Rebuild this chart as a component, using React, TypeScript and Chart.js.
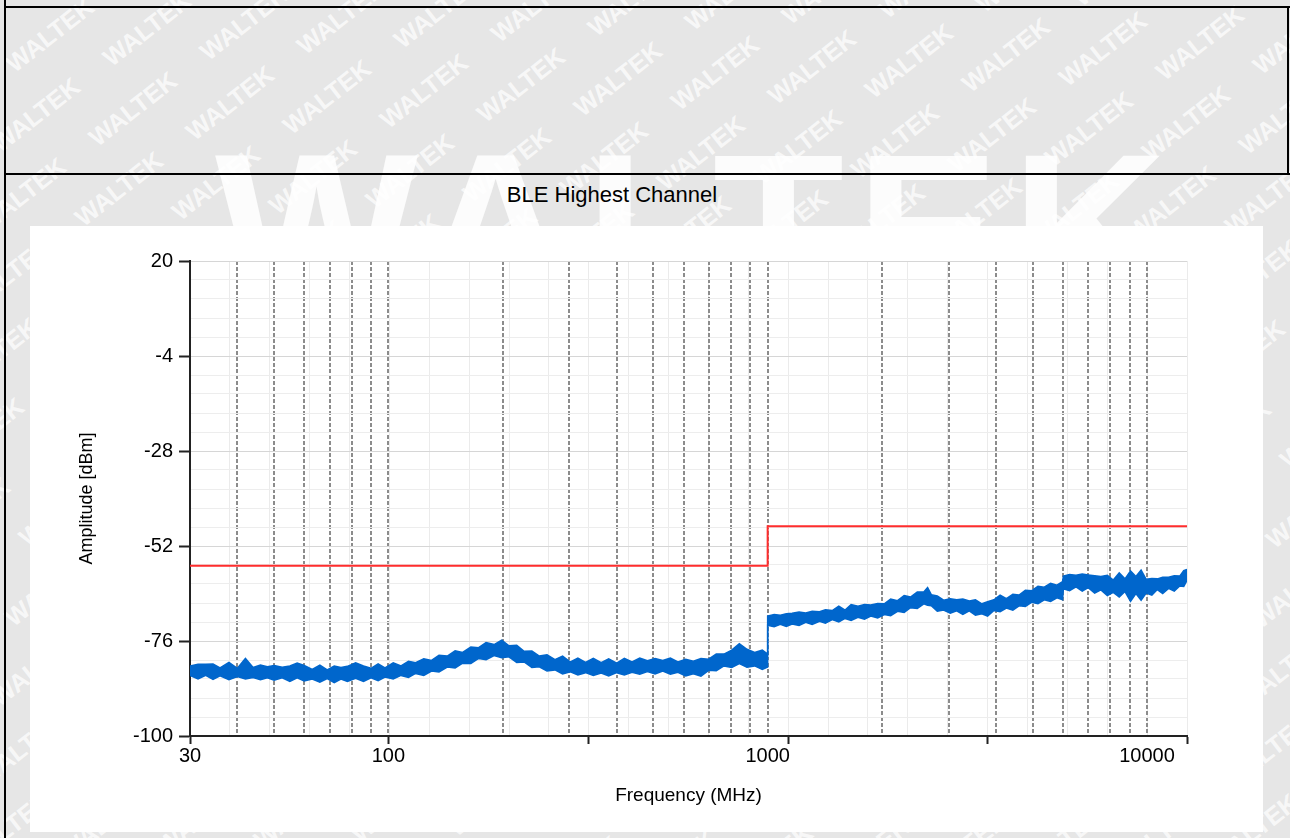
import React, { useEffect, useRef } from 'react';
import { Chart, registerables } from 'chart.js';

Chart.register(...registerables);

const CHART_TITLE = 'BLE Highest Channel';
const X_TITLE = 'Frequency (MHz)';
const Y_TITLE = 'Amplitude [dBm]';

const X_MIN = 30;
const X_MAX = 12750;
const Y_MIN = -100;
const Y_MAX = 20;
const Y_MAJOR_STEP = 24;
const Y_MINOR_DIV = 5;
const X_LABELS = [30, 100, 1000, 10000];
const X_DASHED = [
  40, 50, 60, 70, 80, 90, 100,
  200, 300, 400, 500, 600, 700, 800, 900, 1000,
  2000, 3000, 4000, 5000, 6000, 7000, 8000, 9000, 10000,
];

// Limit line (red)
const LIMIT_FREQ = [30, 1000, 1000, 12750];
const LIMIT_DBM = [-57, -57, -47, -47];

// Measured trace 30 MHz - 1 GHz (upper / lower edge of the noisy trace)
const SEG1_FREQ = [
  30, 31.5, 33, 34.5, 36, 38, 40, 42, 44, 46, 48, 50, 52.5, 55, 57.5,
  60, 63, 66, 69, 72, 75, 78, 82, 86, 90, 94, 98, 103, 108, 113,
  118, 124, 130, 136, 143, 150, 157, 165, 173, 181, 190, 199, 208, 218, 228,
  239, 250, 262, 275, 288, 302, 316, 331, 347, 364, 381, 400, 419, 439, 460,
  482, 505, 529, 554, 580, 608, 637, 667, 699, 732, 767, 804, 842, 882, 924,
  968, 1000,
];
const SEG1_UPPER = [
  -82.3, -81.9, -81.9, -81.8, -82.8, -81.4, -82.9, -80.4, -82.7, -82.1, -82.5, -82.2, -82.6, -82.3, -81.6,
  -82.2, -83.2, -82.1, -83.3, -82.3, -82.7, -82.4, -81.5, -82.3, -82.9, -81.8, -82.8, -81.5, -82.3, -81.1,
  -81.5, -80.5, -80.9, -79.6, -79.8, -78.5, -78.9, -77.5, -77.7, -76.4, -76.9, -75.8, -77.2, -77.1, -78.6,
  -78.5, -79.8, -79.5, -80.7, -79.8, -81.3, -80.3, -81.4, -80.4, -81.5, -80.5, -81.6, -80.4, -81.3, -80.3,
  -81.0, -80.4, -80.9, -80.3, -81.3, -80.6, -81.1, -80.4, -80.6, -79.3, -79.3, -78.3, -76.7, -78.1, -78.9,
  -78.3, -79.3,
];
const SEG1_LOWER = [
  -84.7, -85.6, -84.7, -85.7, -84.8, -85.8, -85.0, -85.6, -85.2, -85.8, -85.3, -85.9, -85.3, -86.2, -85.3,
  -86.1, -85.6, -86.4, -85.5, -86.5, -85.6, -86.2, -85.4, -86.2, -85.3, -86.0, -85.1, -85.6, -84.7, -85.2,
  -84.2, -84.7, -83.6, -83.8, -82.6, -82.8, -81.6, -81.7, -80.4, -80.7, -79.7, -80.2, -80.0, -81.4, -81.3,
  -82.7, -82.5, -83.6, -83.3, -84.3, -83.8, -84.6, -84.0, -84.7, -84.1, -84.8, -84.0, -84.6, -83.9, -84.4,
  -83.7, -84.3, -83.6, -84.4, -83.9, -84.8, -84.3, -84.9, -83.4, -83.5, -82.3, -82.7, -81.7, -82.6, -82.3,
  -83.2, -82.6,
];

// Measured trace 1 GHz - 12.75 GHz
const SEG2_FREQ = [
  1000, 1040, 1080, 1120, 1160, 1210, 1260, 1310, 1370, 1420, 1480, 1540, 1600, 1660, 1730,
  1800, 1870, 1950, 2030, 2110, 2200, 2290, 2380, 2480, 2580, 2640, 2700, 2800, 2910, 3030,
  3150, 3270, 3400, 3530, 3670, 3800, 3950, 4100, 4260, 4430, 4600, 4780, 4970, 5160, 5360,
  5570, 5790, 5990, 6020, 6250, 6500, 6750, 7000, 7280, 7560, 7860, 8150, 8450, 8750, 9050,
  9350, 9650, 9950, 10300, 10650, 11000, 11400, 11800, 12200, 12500, 12750,
];
const SEG2_UPPER = [
  -69.7, -69.3, -69.5, -69.1, -69.0, -68.7, -68.9, -68.5, -68.6, -68.1, -68.3, -67.2, -68.2, -66.8, -67.2,
  -66.8, -66.9, -66.5, -66.6, -65.4, -65.8, -64.5, -64.9, -63.6, -63.6, -62.5, -64.3, -64.6, -65.7, -65.3,
  -65.6, -65.4, -65.9, -65.6, -66.6, -66.1, -65.6, -64.4, -65.3, -64.2, -64.4, -63.2, -63.3, -62.2, -62.4,
  -61.4, -61.9, -61.0, -59.6, -59.2, -59.4, -59.1, -59.3, -59.5, -59.7, -59.4, -60.6, -58.8, -60.3, -58.3,
  -59.7, -58.1, -60.4, -60.2, -60.3, -59.9, -59.9, -59.5, -59.6, -58.2, -57.9,
];
const SEG2_LOWER = [
  -72.0, -72.4, -71.8, -72.3, -71.7, -72.1, -71.3, -71.8, -71.0, -71.5, -70.6, -71.2, -70.3, -70.8, -70.0,
  -70.5, -69.7, -70.2, -69.3, -69.6, -68.5, -68.8, -67.6, -67.8, -66.6, -67.0, -67.1, -68.5, -68.2, -69.0,
  -68.4, -69.3, -68.4, -69.5, -69.1, -69.7, -68.3, -68.6, -67.7, -68.2, -67.1, -67.3, -66.2, -66.6, -65.6,
  -66.0, -65.1, -65.6, -62.8, -63.3, -62.3, -63.4, -62.5, -63.9, -63.1, -64.5, -63.7, -64.9, -63.5, -66.0,
  -64.0, -65.7, -63.9, -64.4, -63.0, -64.0, -62.7, -63.4, -62.1, -62.2, -60.7,
];

const FONT = "'Liberation Sans', Arial, sans-serif";
const TICK_FONT = "'Liberation Sans Narrow', 'Arial Narrow', 'Liberation Sans', Arial, sans-serif";
const TRACE_COLOR = '#0066cc';
const LIMIT_COLOR = 'rgb(255,45,45)';

const xy = (xs: number[], ys: number[]) => xs.map((x, i) => ({ x, y: ys[i] }));

// axis decorations
const X_SPAN = X_MAX / X_MIN;
const X_MINOR_GRID = Array.from({ length: 26 }, (_, k) => X_MIN * Math.pow(X_SPAN, k / 25));
const X_MARKS = Array.from({ length: 6 }, (_, k) => X_MIN * Math.pow(X_SPAN, k / 5));
type XT = { value: number; label: string; mark: boolean };
const X_AXIS_TICKS: XT[] = (() => {
  const list: XT[] = X_LABELS.map((v) => ({ value: v, label: String(v), mark: false }));
  X_MARKS.forEach((m) => {
    const near = list.find((t) => Math.abs(Math.log10(t.value / m)) < 0.01);
    if (near) near.mark = true;
    else list.push({ value: m, label: '', mark: true });
  });
  return list.sort((a, b) => a.value - b.value);
})();
const Y_TICKS = Array.from(
  { length: Math.round((Y_MAX - Y_MIN) / (Y_MAJOR_STEP / Y_MINOR_DIV)) + 1 },
  (_, i) => Math.round((Y_MIN + (i * Y_MAJOR_STEP) / Y_MINOR_DIV) * 10) / 10
);

function Watermarks() {
  const items: React.ReactNode[] = [];
  for (let r = -1; r < 12; r++) {
    for (let c = -1; c < 15; c++) {
      const cx = 50 + c * 97 - r * 14;
      const cy = 35 + r * 80 - c * 6;
      items.push(
        <span
          key={`${r}_${c}`}
          style={{
            position: 'absolute',
            left: cx,
            top: cy,
            transform: 'translate(-50%,-50%) rotate(-38deg)',
            fontFamily: FONT,
            fontWeight: 700,
            fontSize: 25,
            color: 'rgba(255,255,255,0.72)',
            whiteSpace: 'nowrap',
          }}
        >
          WALTEK
        </span>
      );
    }
  }
  return <>{items}</>;
}

export default function App() {
  const canvasRef = useRef<HTMLCanvasElement>(null);

  useEffect(() => {
    const canvas = canvasRef.current;
    if (!canvas) return;
    const tickFont = { family: TICK_FONT, size: 20 };
    const chart = new Chart(canvas, {
      type: 'line',
      data: {
        datasets: [
          {
            label: 'Limit',
            data: xy(LIMIT_FREQ, LIMIT_DBM),
            borderColor: LIMIT_COLOR,
            borderWidth: 2,
            pointRadius: 0,
            fill: false,
            xAxisID: 'x',
            yAxisID: 'y',
          },
          {
            label: 'Trace upper',
            data: xy(SEG1_FREQ.concat(SEG2_FREQ), SEG1_UPPER.concat(SEG2_UPPER)),
            borderColor: TRACE_COLOR,
            backgroundColor: TRACE_COLOR,
            borderWidth: 1.5,
            pointRadius: 0,
            fill: '+1',
            xAxisID: 'x',
            yAxisID: 'y',
          },
          {
            label: 'Trace lower',
            data: xy(SEG1_FREQ.concat(SEG2_FREQ), SEG1_LOWER.concat(SEG2_LOWER)),
            borderColor: TRACE_COLOR,
            borderWidth: 1.5,
            pointRadius: 0,
            fill: false,
            xAxisID: 'x',
            yAxisID: 'y',
          },
        ],
      },
      options: {
        responsive: false,
        maintainAspectRatio: false,
        devicePixelRatio: 1,
        animation: false,
        events: [],
        layout: { padding: { top: 35, right: 76, bottom: 0, left: 0 } },
        plugins: { legend: { display: false }, tooltip: { enabled: false } },
        scales: {
          x: {
            type: 'logarithmic',
            position: 'bottom',
            min: X_MIN,
            max: X_MAX,
            bounds: 'data',
            weight: 10,
            afterBuildTicks: (s: any) => {
              s.ticks = X_AXIS_TICKS.map((t) => ({ value: t.value }));
            },
            afterFit: (s: any) => {
              s.height = 96;
            },
            ticks: {
              autoSkip: false,
              maxRotation: 0,
              minRotation: 0,
              padding: 0,
              color: '#000',
              font: tickFont,
              callback: (_v: any, i: number) => X_AXIS_TICKS[i]?.label ?? '',
            },
            grid: {
              drawOnChartArea: false,
              drawTicks: true,
              tickLength: 8,
              tickWidth: 2,
              tickColor: (ctx: any) => (X_AXIS_TICKS[ctx.index]?.mark ? '#222' : 'rgba(0,0,0,0)'),
            },
            border: { display: true, color: '#222', width: 2 },
            title: {
              display: true,
              text: X_TITLE,
              color: '#000',
              font: { family: FONT, size: 19 },
              padding: { top: 0, bottom: 25 },
            },
          },
          xg: {
            type: 'logarithmic',
            position: 'bottom',
            min: X_MIN,
            max: X_MAX,
            bounds: 'data',
            weight: 0,
            afterBuildTicks: (s: any) => {
              s.ticks = X_MINOR_GRID.map((v) => ({ value: v }));
            },
            afterFit: (s: any) => {
              s.height = 0;
            },
            ticks: { display: false },
            grid: { drawTicks: false, color: '#ebebeb', lineWidth: 1 },
            border: { display: false },
          },
          xd: {
            type: 'logarithmic',
            position: 'bottom',
            min: X_MIN,
            max: X_MAX,
            bounds: 'data',
            weight: 1,
            afterBuildTicks: (s: any) => {
              s.ticks = X_DASHED.map((v) => ({ value: v }));
            },
            afterFit: (s: any) => {
              s.height = 0;
            },
            ticks: { display: false },
            grid: { drawTicks: false, color: '#8c8c8c', lineWidth: 2 },
            border: { display: false, dash: [4, 2] },
          },
          y: {
            type: 'linear',
            position: 'left',
            min: Y_MIN,
            max: Y_MAX,
            afterBuildTicks: (s: any) => {
              s.ticks = Y_TICKS.map((v) => ({ value: v }));
            },
            afterFit: (s: any) => {
              s.width = 160;
            },
            ticks: {
              autoSkip: false,
              padding: 6,
              color: '#000',
              font: tickFont,
              callback: (v: any, i: number) => (i % Y_MINOR_DIV === 0 ? String(Math.round(Number(v))) : ''),
            },
            grid: {
              drawTicks: true,
              tickLength: 11,
              tickWidth: 2,
              lineWidth: 1,
              color: (ctx: any) => (ctx.index % Y_MINOR_DIV === 0 ? '#d6d6d6' : '#ededed'),
              tickColor: (ctx: any) => (ctx.index % Y_MINOR_DIV === 0 ? '#222' : 'rgba(0,0,0,0)'),
            },
            border: { display: true, color: '#222', width: 2 },
            title: {
              display: true,
              text: Y_TITLE,
              color: '#000',
              font: { family: FONT, size: 18 },
              padding: { top: 46, bottom: 0 },
            },
          },
        },
      },
    } as any);
    return () => chart.destroy();
  }, []);

  const line = (s: React.CSSProperties) => (
    <div style={{ position: 'absolute', background: '#000', ...s }} />
  );

  return (
    <div
      style={{
        position: 'fixed',
        left: 0,
        top: 0,
        width: 1290,
        height: 838,
        background: '#e6e6e6',
        overflow: 'hidden',
        fontFamily: FONT,
      }}
    >
      <Watermarks />
      <div
        style={{
          position: 'absolute',
          left: 215,
          top: 122,
          fontFamily: FONT,
          fontWeight: 700,
          fontSize: 215,
          lineHeight: 1,
          letterSpacing: 12,
          color: 'rgba(255,255,255,0.85)',
          whiteSpace: 'nowrap',
        }}
      >
        WALTEK
      </div>
      {line({ left: 4, top: 6, width: 1286, height: 2 })}
      {line({ left: 4, top: 173, width: 1286, height: 2 })}
      {line({ left: 4, top: 0, width: 2, height: 838 })}
      {line({ left: 1287, top: 6, width: 2, height: 169 })}
      <div
        style={{
          position: 'absolute',
          left: 612,
          top: 184,
          transform: 'translateX(-50%)',
          fontFamily: FONT,
          fontSize: 22,
          lineHeight: '22px',
          color: '#000',
          whiteSpace: 'nowrap',
        }}
      >
        {CHART_TITLE}
      </div>
      <div
        style={{
          position: 'absolute',
          left: 30,
          top: 226,
          width: 1233,
          height: 606,
          background: '#fff',
        }}
      >
        <canvas ref={canvasRef} width={1233} height={606} style={{ display: 'block' }} />
      </div>
    </div>
  );
}
